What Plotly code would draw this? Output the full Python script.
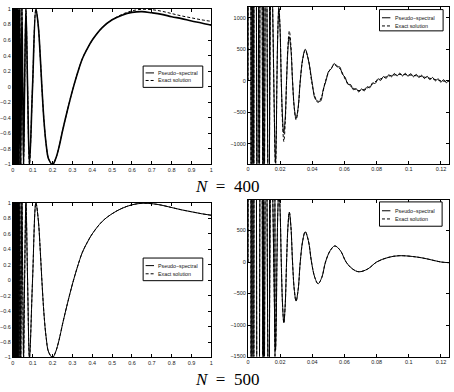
import plotly.graph_objects as go

W, H = 454, 392

# ---------------- data ----------------
left_x = [0.0, 0.0005, 0.001, 0.0015, 0.002, 0.0025, 0.003, 0.0035, 0.004, 0.0045,
          0.005, 0.0055, 0.006, 0.0065, 0.007, 0.0075, 0.008, 0.0085, 0.009, 0.0095,
          0.0099, 0.0103, 0.0108, 0.0113, 0.0118, 0.0124, 0.013, 0.0137, 0.0144, 0.0152,
          0.016, 0.0169, 0.0179, 0.0191, 0.0204, 0.0219, 0.0237, 0.0257, 0.0282, 0.0312,
          0.0348, 0.0395, 0.0455, 0.0495, 0.0538, 0.059, 0.0658, 0.074, 0.0835, 0.099,
          0.116, 0.128, 0.138, 0.146, 0.157, 0.168, 0.18, 0.2, 0.215, 0.232,
          0.25, 0.275, 0.3, 0.325, 0.35, 0.375, 0.4, 0.45, 0.5, 0.55,
          0.6, 0.65, 0.7, 0.75, 0.8, 0.85, 0.9, 0.95, 1.0]

left_exact = [0, -1, 1, -1, 1, -1, 1, -1, 1, -1,
              1, -1, 1, -1, 1, -1, 1, -1, 1, -1,
              1, -1, 1, -1, 1, -1, 1, -1, 1, -1,
              1, -1, 1, -1, 1, -1, 1, -1, 1, -1,
              1, -1, 1, 0, -1, 0, 1, 0, -1, 0,
              1, 0.78, 0.38, 0.0, -0.45, -0.75, -0.93, -1.0, -0.93, -0.78,
              -0.57, -0.3, -0.05, 0.17, 0.36, 0.49, 0.6, 0.76, 0.86, 0.93,
              0.975, 0.995, 0.99, 0.97, 0.94, 0.91, 0.885, 0.86, 0.84]

left_ps400 = [0, -1, 1, -1, 1, -1, 1, -1, 1, -1,
              1, -1, 1, -1, 1, -1, 1, -1, 1, -1,
              1, -1, 1, -1, 1, -1, 1, -1, 1, -1,
              1, -1, 1, -1, 1, -1, 1, -1, 1, -1,
              1, -1, 1, 0, -1, 0, 1, 0, -1, 0,
              1, 0.78, 0.38, 0.0, -0.45, -0.75, -0.93, -1.0, -0.93, -0.78,
              -0.57, -0.3, -0.05, 0.17, 0.36, 0.49, 0.6, 0.76, 0.86, 0.92,
              0.955, 0.965, 0.95, 0.93, 0.90, 0.875, 0.845, 0.82, 0.79]

left_ps500 = [0, -1, 1, -1, 1, -1, 1, -1, 1, -1,
              1, -1, 1, -1, 1, -1, 1, -1, 1, -1,
              1, -1, 1, -1, 1, -1, 1, -1, 1, -1,
              1, -1, 1, -1, 1, -1, 1, -1, 1, -1,
              1, -1, 1, 0, -1, 0, 1, 0, -1, 0,
              1, 0.78, 0.38, 0.0, -0.45, -0.75, -0.93, -1.0, -0.93, -0.78,
              -0.57, -0.3, -0.05, 0.17, 0.36, 0.49, 0.6, 0.76, 0.86, 0.93,
              0.975, 0.995, 0.99, 0.97, 0.94, 0.91, 0.885, 0.86, 0.84]

right_x = [0.0, 0.0002, 0.0005, 0.0008, 0.0012, 0.0016, 0.0021, 0.0027, 0.0034, 0.0042,
           0.0063, 0.0081, 0.0097, 0.0112, 0.0128, 0.0145, 0.0171, 0.01755,
           0.018, 0.0186, 0.0192, 0.01995, 0.0207, 0.0215, 0.0223, 0.02315, 0.024, 0.02485,
           0.0257, 0.0267, 0.0277, 0.0288, 0.0299, 0.0312, 0.0325, 0.03405, 0.0356, 0.03755,
           0.0395, 0.04155, 0.0436, 0.0459, 0.0482, 0.0511, 0.054, 0.0575, 0.061, 0.065,
           0.069, 0.0745, 0.08, 0.087, 0.094, 0.105, 0.112, 0.12, 0.125]

right_exact = [0, 120000, -100000, 80000, -60000, 45000, -34000, 26000, -20000, 15000,
               -9000, 6000, -4300, 3300, -2600, 2000, -1400, -990,
               0, 835, 1180, 835, 0, -680, -965, -680, 0, 560,
               790, 560, 0, -440, -620, -440, 0, 340, 480, 340,
               0, -245, -345, -245, 0, 180, 255, 180, 0, -110,
               -155, -110, 0, 71, 100, 79, 46, 0, -10]

right_ps500 = [0, 120000, -100000, 80000, -60000, 45000, -34000, 26000, -20000, 15000,
               -9000, 6000, -4300, 3300, -2600, 2000, -1400, -990,
               0, 835, 1180, 835, 0, -680, -965, -680, 0, 560,
               790, 560, 0, -440, -620, -440, 0, 340, 480, 340,
               0, -245, -345, -245, 0, 180, 255, 180, 0, -110,
               -155, -110, 0, 71, 100, 79, 46, 0, -10]

right_x_ps400 = [0.0, 0.0002, 0.0005, 0.0008, 0.0012, 0.0016, 0.0021, 0.0027, 0.0034, 0.0042,
                 0.0063, 0.0081, 0.0097, 0.0112, 0.0128, 0.0145,
                 0.0171, 0.01755, 0.018, 0.0186, 0.0192, 0.01995, 0.0207, 0.0215, 0.0222, 0.02315,
                 0.024, 0.02485, 0.0256, 0.0267, 0.0277, 0.0288, 0.0299, 0.0312, 0.0325, 0.03405,
                 0.0356, 0.0378,
                 0.04, 0.0417, 0.0434, 0.0451, 0.0468, 0.0485, 0.0502, 0.0519, 0.0536, 0.0553,
                 0.057, 0.0587, 0.0604, 0.0621, 0.0638, 0.0655, 0.0672, 0.0689, 0.0706, 0.0723,
                 0.074, 0.0757, 0.0774, 0.0791, 0.0808, 0.0825, 0.0842, 0.0859, 0.0876, 0.0893,
                 0.091, 0.0927, 0.0944, 0.0961, 0.0978, 0.0995, 0.1012, 0.1029, 0.1046, 0.1063,
                 0.108, 0.1097, 0.1114, 0.1131, 0.1148, 0.1165, 0.1182, 0.1199, 0.1216, 0.1233, 0.125]

right_ps400 = [0, 120000, -100000, 80000, -60000, 45000, -34000, 26000, -20000, 15000,
               -9000, 6000, -4300, 3300, -2600, 2000,
               -1300, -920, 0, 815, 1150, 815, 0, -590, -830, -590,
               0, 495, 700, 495, 0, -425, -600, -425, 0, 355,
               500, 300,
               -44, -280, -322, -323, -137, -1, 154, 193, 275, 222,
               221, 104, 56, -55, -59, -142, -123, -177, -129, -160,
               -95, -111, -34, -42, 31, 6, 67, 40, 97, 64,
               116, 77, 122, 77, 119, 72, 113, 64, 102, 52,
               88, 36, 72, 18, 53, -1, 33, -22, 17, -30, 12]

series_names = ["Pseudo\u2212spectral", "Exact solution"]
panel_titles = ["<i>N</i>\u2002=\u2002400", "<i>N</i>\u2002=\u2002500"]

left_xticks = [0, 0.1, 0.2, 0.3, 0.4, 0.5, 0.6, 0.7, 0.8, 0.9, 1]
left_xtext = ["0", "0.1", "0.2", "0.3", "0.4", "0.5", "0.6", "0.7", "0.8", "0.9", "1"]
left_yticks = [-1, -0.8, -0.6, -0.4, -0.2, 0, 0.2, 0.4, 0.6, 0.8, 1]
left_ytext = ["\u22121", "\u22120.8", "\u22120.6", "\u22120.4", "\u22120.2", "0",
              "0.2", "0.4", "0.6", "0.8", "1"]
right_xticks = [0, 0.02, 0.04, 0.06, 0.08, 0.1, 0.12]
right_xtext = ["0", "0.02", "0.04", "0.06", "0.08", "0.1", "0.12"]
right_yticks_top = [-1000, -500, 0, 500, 1000]
right_ytext_top = ["\u22121000", "\u2212500", "0", "500", "1000"]
right_yticks_bot = [-1500, -1000, -500, 0, 500]
right_ytext_bot = ["\u22121500", "\u22121000", "\u2212500", "0", "500"]

# ---------------- figure ----------------
def px(x):
    return x / W

def py(y):
    return 1 - y / H

fig = go.Figure()

solid = dict(color="black", width=1, shape="spline", smoothing=1)
dashed = dict(color="black", width=1, dash="3px,2px", shape="spline", smoothing=1)

panels = [
    ("", left_x, left_ps400, left_x, left_exact, 1.6),
    ("2", right_x_ps400, right_ps400, right_x, right_exact, 1.0),
    ("3", left_x, left_ps500, left_x, left_exact, 1.0),
    ("4", right_x, right_ps500, right_x, right_exact, 1.0),
]
for suf, xs, ys, xe, ye, w in panels:
    s = dict(solid)
    s["width"] = w
    fig.add_trace(go.Scatter(x=xs, y=ys, mode="lines", line=s, name=series_names[0],
                             xaxis="x" + suf, yaxis="y" + suf, showlegend=False))
    fig.add_trace(go.Scatter(x=xe, y=ye, mode="lines", line=dashed, name=series_names[1],
                             xaxis="x" + suf, yaxis="y" + suf, showlegend=False))

tickfont = dict(family="Liberation Sans, Arial, sans-serif", size=5.5, color="#222")

def axis(domain, rng, tv, tt, anchor):
    return dict(domain=domain, range=rng, tickvals=tv, ticktext=tt, anchor=anchor,
                showline=True, linecolor="black", linewidth=1, mirror="allticks",
                ticks="inside", ticklen=3, tickwidth=1, tickcolor="black",
                showgrid=False, zeroline=False, tickfont=tickfont, fixedrange=True)

boxes = {
    "": (10, 210.7, 6, 164),
    "2": (247.7, 451, 4, 163.3),
    "3": (10, 210.7, 203, 360),
    "4": (247.7, 451, 199.7, 359),
}

def dom_x(b):
    return [px(b[0]), px(b[1])]

def dom_y(b):
    return [py(b[3]), py(b[2])]

fig.update_layout(
    width=W, height=H, margin=dict(l=0, r=0, t=0, b=0),
    paper_bgcolor="white", plot_bgcolor="white", showlegend=False,
    xaxis=axis(dom_x(boxes[""]), [0, 1], left_xticks, left_xtext, "y"),
    yaxis=axis(dom_y(boxes[""]), [-1, 1], left_yticks, left_ytext, "x"),
    xaxis2=axis(dom_x(boxes["2"]), [0, 0.125], right_xticks, right_xtext, "y2"),
    yaxis2=axis(dom_y(boxes["2"]), [-1317, 1172], right_yticks_top, right_ytext_top, "x2"),
    xaxis3=axis(dom_x(boxes["3"]), [0, 1], left_xticks, left_xtext, "y3"),
    yaxis3=axis(dom_y(boxes["3"]), [-1, 1], left_yticks, left_ytext, "x3"),
    xaxis4=axis(dom_x(boxes["4"]), [0, 0.125], right_xticks, right_xtext, "y4"),
    yaxis4=axis(dom_y(boxes["4"]), [-1500, 990], right_yticks_bot, right_ytext_bot, "x4"),
)

# ---------------- legends (drawn boxes) ----------------
legends = [
    (141.7, 202, 64, 85.7, 71, 78.7),
    (380.7, 445, 6.7, 28.3, 15, 23.3),
    (141.7, 202, 259, 282, 266.7, 275),
    (380.7, 444, 202, 226.7, 211, 219.3),
]
shapes = []
annotations = []
legfont = dict(family="Liberation Sans, Arial, sans-serif", size=5.3, color="#111")
for x0, x1, y0, y1, ya, yb in legends:
    shapes.append(dict(type="rect", xref="paper", yref="paper",
                       x0=px(x0), x1=px(x1), y0=py(y1), y1=py(y0),
                       line=dict(color="black", width=1), fillcolor="white", layer="above"))
    shapes.append(dict(type="line", xref="paper", yref="paper",
                       x0=px(x0 + 2.5), x1=px(x0 + 11), y0=py(ya), y1=py(ya),
                       line=dict(color="black", width=1), layer="above"))
    shapes.append(dict(type="line", xref="paper", yref="paper",
                       x0=px(x0 + 2.5), x1=px(x0 + 11), y0=py(yb), y1=py(yb),
                       line=dict(color="black", width=1, dash="3px,2px"), layer="above"))
    for yy, name in ((ya, series_names[0]), (yb, series_names[1])):
        annotations.append(dict(xref="paper", yref="paper", x=px(x0 + 13.5), y=py(yy),
                                text=name, showarrow=False, xanchor="left", yanchor="middle",
                                font=legfont))

titlefont = dict(family="Liberation Serif, DejaVu Serif, serif", size=17, color="black")
annotations.append(dict(xref="paper", yref="paper", x=px(226), y=py(186.5), text=panel_titles[0],
                        showarrow=False, xanchor="center", yanchor="middle", font=titlefont))
annotations.append(dict(xref="paper", yref="paper", x=px(226), y=py(382), text=panel_titles[1],
                        showarrow=False, xanchor="center", yanchor="middle", font=titlefont))

fig.update_layout(shapes=shapes, annotations=annotations)
fig.write_html("out.html")
